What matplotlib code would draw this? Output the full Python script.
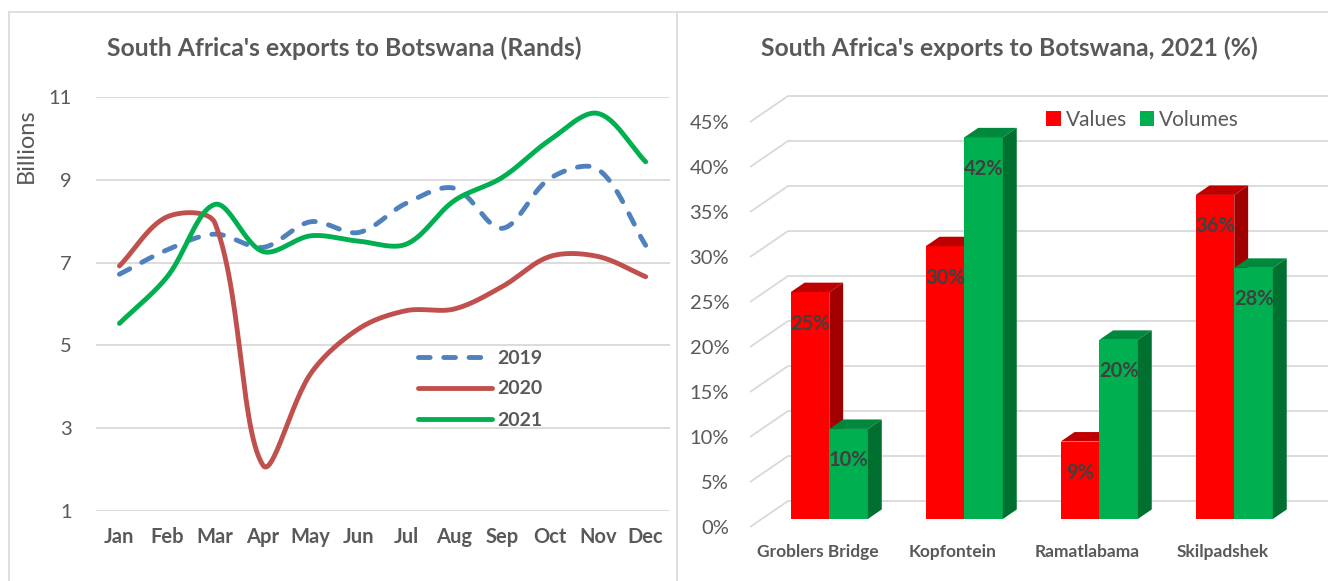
import numpy as np
import matplotlib
matplotlib.use("Agg")
import matplotlib.pyplot as plt
from matplotlib.patches import Polygon, Patch
from matplotlib.lines import Line2D

plt.rcParams['font.family'] = ['Lato', 'DejaVu Sans']

# ---- data: left chart (R billions) ----
months = ['Jan', 'Feb', 'Mar', 'Apr', 'May', 'Jun', 'Jul', 'Aug', 'Sep', 'Oct', 'Nov', 'Dec']
exp_2019 = [6.72, 7.31, 7.69, 7.37, 7.99, 7.73, 8.44, 8.80, 7.83, 9.04, 9.26, 7.42]
exp_2020 = [6.92, 8.11, 7.95, 2.10, 4.32, 5.40, 5.84, 5.88, 6.42, 7.15, 7.15, 6.66]
exp_2021 = [5.53, 6.66, 8.41, 7.27, 7.65, 7.52, 7.45, 8.50, 9.06, 9.97, 10.61, 9.44]
y_ticks = [1, 3, 5, 7, 9, 11]

# ---- data: right chart (%) ----
posts = ['Groblers Bridge', 'Kopfontein', 'Ramatlabama', 'Skilpadshek']
values = [25.2, 30.3, 8.6, 36.0]
volumes = [10.0, 42.4, 19.9, 27.9]
pct_ticks = [0, 5, 10, 15, 20, 25, 30, 35, 40, 45]

W, H = 1328, 581
GRID = '#D9D9D9'
TXT = '#595959'

fig = plt.figure(figsize=(W / 100, H / 100), dpi=100)

# frame lines like the Excel chart boxes
for xs, ys in [((9, W), (12, 12)), ((9, 9), (12, H)), ((677, 677), (12, H))]:
    fig.add_artist(Line2D([x / W for x in xs], [1 - y / H for y in ys],
                          color=GRID, lw=1.2, transform=fig.transFigure))


def excel_smooth(y, sx, sy, n=30, t=1/3):
    # bezier smoothing roughly like Excel's "smoothed line"
    P = np.column_stack([np.arange(len(y)) * sx, np.asarray(y) * sy])
    out = [P[:1]]
    for i in range(len(P) - 1):
        p0, p3 = P[i], P[i + 1]
        pm = P[i - 1] if i > 0 else P[i]
        pn = P[i + 2] if i + 2 < len(P) else P[i + 1]
        d01 = np.linalg.norm(p0 - pm)
        d12 = np.linalg.norm(p3 - p0)
        d23 = np.linalg.norm(pn - p3)
        c1 = p0 + t * d12 / (d01 + d12) * (p3 - pm)
        c2 = p3 - t * d12 / (d12 + d23) * (pn - p0)
        s = np.linspace(0, 1, n)[1:, None]
        seg = (1 - s) ** 3 * p0 + 3 * (1 - s) ** 2 * s * c1 + 3 * (1 - s) * s ** 2 * c2 + s ** 3 * p3
        out.append(seg)
    out = np.vstack(out)
    return out[:, 0] / sx, out[:, 1] / sy


# ---------------- left: line chart ----------------
l, b, r, t = 95.5, 510.7, 669.6, 97.3
ax1 = fig.add_axes([l / W, 1 - b / H, (r - l) / W, (b - t) / H])
ax1.set_xlim(-0.5, 11.5)
ax1.set_ylim(1, 11)
sx = (r - l) / 12
sy = (b - t) / 10

series = [('2019', exp_2019, '#4F81BD', (0, (2.4, 2.8))),
          ('2020', exp_2020, '#C0504D', '-'),
          ('2021', exp_2021, '#00B050', '-')]
for name, vals, col, ls in series:
    xs, ys = excel_smooth(vals, sx, sy)
    ax1.plot(xs, ys, color=col, lw=3.5, ls=ls, label=name,
             solid_capstyle='round', dash_capstyle='round', clip_on=False)

ax1.set_yticks(y_ticks)
ax1.set_xticks(range(12))
ax1.set_xticklabels(months, fontsize=14.5, fontweight='bold', color=TXT)
ax1.tick_params(axis='y', length=0, pad=17, labelsize=14.5, labelcolor=TXT)
ax1.tick_params(axis='x', length=0, pad=12)
ax1.grid(axis='y', color=GRID, lw=1.3)
ax1.set_axisbelow(True)
for sp in ax1.spines.values():
    sp.set_visible(False)

fig.text(26 / W, 1 - 146 / H, 'Billions', rotation=90, ha='center', va='center',
         fontsize=17, color=TXT)
fig.text(344 / W, 1 - 48 / H, "South Africa's exports to Botswana (Rands)",
         ha='center', va='center', fontsize=17.8, fontweight='bold', color=TXT)

leg1 = ax1.legend(loc='center left', bbox_to_anchor=(418 / W, 1 - 389 / H),
                  bbox_transform=fig.transFigure, frameon=False, borderpad=0,
                  borderaxespad=0, handlelength=3.8, handletextpad=0.3,
                  labelspacing=0.72, prop={'size': 14, 'weight': 'bold'})
for txt in leg1.get_texts():
    txt.set_color(TXT)

# ---------------- right: pseudo 3D column chart ----------------
rl, rb, rr, rt = 750, 536, W, 85
ax2 = fig.add_axes([rl / W, 1 - rb / H, (rr - rl) / W, (rb - rt) / H])
px_x, px_y = 135.0, 9.0          # pixels per category / per percent
y_front0 = 527
ax2.set_xlim(-0.5, -0.5 + (rr - rl) / px_x)
ax2.set_ylim((y_front0 - rb) / px_y, (y_front0 - rt) / px_y)
DX, DY = 38 / px_x, 26 / px_y    # full depth of the floor
x_end = ax2.get_xlim()[1]

for g in pct_ticks:
    ax2.plot([-0.5, -0.5 + DX, x_end], [g, g + DY, g + DY], color=GRID, lw=1.3,
             zorder=0, clip_on=False, solid_capstyle='butt')

f0, f1 = 0.31, 0.675
ox, oy = f0 * DX, f0 * DY
ddx, ddy = (f1 - f0) * DX, (f1 - f0) * DY
bw = 0.286
xc = np.arange(len(posts))

bar_sets = [(values, -bw, '#FF0000', '#C00000', '#A00000', 'Values'),
            (volumes, 0.0, '#00B050', '#00893D', '#007030', 'Volumes')]
for i in range(len(posts)):
    for k, (vals, shift, front, top, side, name) in enumerate(bar_sets):
        x0 = xc[i] + shift + ox
        v = vals[i]
        z = 2 + i * 2 + k
        ax2.bar(x0, v, width=bw, bottom=oy, align='edge', color=front, zorder=z)
        ax2.add_patch(Polygon([(x0, oy + v), (x0 + bw, oy + v),
                               (x0 + bw + ddx, oy + v + ddy), (x0 + ddx, oy + v + ddy)],
                              closed=True, facecolor=top, edgecolor='none', zorder=z))
        ax2.add_patch(Polygon([(x0 + bw, oy), (x0 + bw + ddx, oy + ddy),
                               (x0 + bw + ddx, oy + v + ddy), (x0 + bw, oy + v)],
                              closed=True, facecolor=side, edgecolor='none', zorder=z))
        ax2.text(x0 + bw / 2, oy + v - 3.5, f'{v:.0f}%', ha='center', va='center',
                 fontsize=14.5, fontweight='bold', color='#404040', zorder=20)

ax2.set_yticks(pct_ticks)
ax2.set_yticklabels([f'{p}%' for p in pct_ticks])
ax2.set_xticks(xc)
ax2.set_xticklabels(posts, fontsize=12.5, fontweight='bold', color=TXT)
ax2.tick_params(axis='y', length=0, pad=15, labelsize=14.5, labelcolor=TXT)
ax2.tick_params(axis='x', length=0, pad=6)
for sp in ax2.spines.values():
    sp.set_visible(False)

fig.text(1009 / W, 1 - 48 / H, "South Africa's exports to Botswana, 2021 (%)",
         ha='center', va='center', fontsize=17.8, fontweight='bold', color=TXT)

handles = [Patch(facecolor='#FF0000', label='Values'),
           Patch(facecolor='#00B050', label='Volumes')]
leg2 = ax2.legend(handles=handles, ncol=2, loc='center left',
                  bbox_to_anchor=(1046 / W, 1 - 120 / H), bbox_transform=fig.transFigure,
                  frameon=False, borderpad=0, borderaxespad=0, handlelength=0.7,
                  handleheight=0.7, handletextpad=0.25, columnspacing=0.6,
                  prop={'size': 15})
for txt in leg2.get_texts():
    txt.set_color(TXT)

fig.savefig('out.png', dpi=100)
